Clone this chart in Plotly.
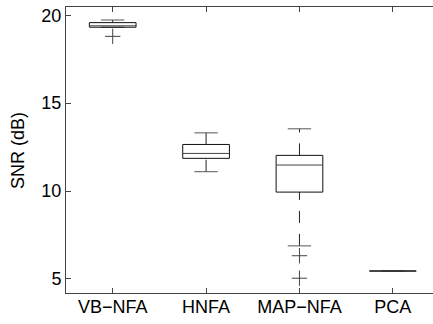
import plotly.graph_objects as go

categories = ["VB\u2212NFA", "HNFA", "MAP\u2212NFA", "PCA"]
lower_whisker = [19.32, 11.10, 6.88, 5.45]
q1 = [19.32, 11.86, 9.94, 5.45]
median = [19.40, 12.14, 11.48, 5.45]
q3 = [19.58, 12.65, 12.03, 5.45]
upper_whisker = [19.73, 13.31, 13.54, 5.45]
outliers = [[18.80], [], [6.32, 5.04], []]
y_ticks = [5, 10, 15, 20]
y_title = "SNR (dB)"

FONT = "Liberation Sans, Arial, Helvetica, sans-serif"
BOX_HALF = 0.25
CAP_HALF = 0.125

fig = go.Figure()

for i, cat in enumerate(categories):
    x = i + 1
    # whiskers (dashed), drawn in increasing value direction
    if q1[i] > lower_whisker[i]:
        fig.add_trace(go.Scatter(x=[x, x], y=[lower_whisker[i], q1[i]], mode="lines",
                                 line=dict(color="#222", width=1, dash="12px,11px"),
                                 hoverinfo="skip", showlegend=False))
    if upper_whisker[i] > q3[i]:
        fig.add_trace(go.Scatter(x=[x, x], y=[q3[i], upper_whisker[i]], mode="lines",
                                 line=dict(color="#222", width=1, dash="12px,11px"),
                                 hoverinfo="skip", showlegend=False))
    # caps
    for v in (lower_whisker[i], upper_whisker[i]):
        fig.add_trace(go.Scatter(x=[x - CAP_HALF, x + CAP_HALF], y=[v, v], mode="lines",
                                 line=dict(color="#555", width=1),
                                 hoverinfo="skip", showlegend=False))
    # box
    fig.add_trace(go.Scatter(
        x=[x - BOX_HALF, x + BOX_HALF, x + BOX_HALF, x - BOX_HALF, x - BOX_HALF],
        y=[q1[i], q1[i], q3[i], q3[i], q1[i]], mode="lines",
        line=dict(color="#111", width=1), hoverinfo="skip", showlegend=False))
    # median
    fig.add_trace(go.Scatter(x=[x - BOX_HALF, x + BOX_HALF], y=[median[i], median[i]],
                             mode="lines", line=dict(color="#444", width=1),
                             hoverinfo="skip", showlegend=False))
    # outliers
    if outliers[i]:
        fig.add_trace(go.Scatter(x=[x] * len(outliers[i]), y=outliers[i], mode="markers",
                                 marker=dict(symbol="cross-thin", size=11,
                                             line=dict(color="#444", width=1)),
                                 hoverinfo="skip", showlegend=False))

fig.update_layout(
    width=433, height=324,
    margin=dict(l=66, r=0, t=7, b=31, autoexpand=False),
    paper_bgcolor="white", plot_bgcolor="white",
    font=dict(family=FONT, size=18, color="black"),
    hovermode=False,
    xaxis=dict(range=[0.5, 4.43], tickvals=[1, 2, 3, 4], ticktext=categories,
               showgrid=False, zeroline=False, showline=True, linecolor="#444",
               linewidth=1, mirror="ticks", ticks="inside", ticklen=5,
               tickcolor="#444", tickfont=dict(size=18), automargin=False,
               ticklabeloverflow="allow", ticklabelstandoff=-3),
    yaxis=dict(range=[4.2, 20.47], tickvals=y_ticks, showgrid=False, zeroline=False,
               showline=True, linecolor="#444", linewidth=1, ticks="inside",
               ticklen=5, tickcolor="#444", tickfont=dict(size=18), automargin=False,
               ticklabeloverflow="allow"),
    annotations=[dict(text=y_title, xref="paper", yref="paper", x=-0.131, y=0.5,
                      xanchor="center", yanchor="middle", textangle=-90,
                      showarrow=False, font=dict(size=18))],
)

# remove the browser's default 8px body margin so the figure sits at the page origin
fig.write_html("out.html", config={"displayModeBar": False, "staticPlot": True},
               post_script="document.body.style.margin='0';")
